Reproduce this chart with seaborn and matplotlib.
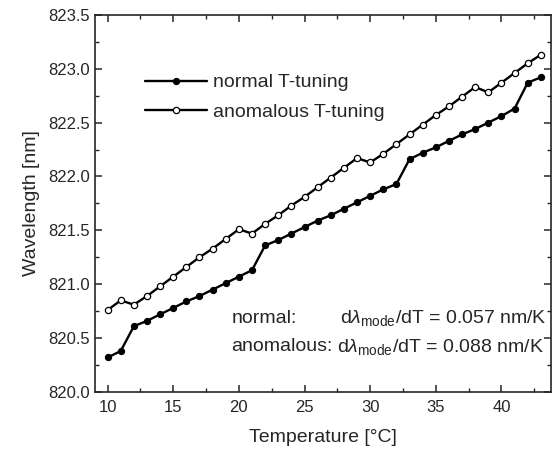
import numpy as np
import pandas as pd
import matplotlib
matplotlib.use("Agg")
import matplotlib.pyplot as plt
import matplotlib.ticker as mticker
import seaborn as sns

# data
temperature = list(range(10, 44))
normal = [820.32, 820.38, 820.61, 820.66, 820.72, 820.78, 820.84, 820.89,
          820.95, 821.01, 821.07, 821.13, 821.36, 821.41, 821.47, 821.53,
          821.59, 821.64, 821.70, 821.76, 821.82, 821.88, 821.93, 822.16,
          822.22, 822.27, 822.33, 822.39, 822.44, 822.50, 822.56, 822.63,
          822.87, 822.92]
anomalous = [820.76, 820.85, 820.81, 820.89, 820.98, 821.07, 821.16, 821.25,
             821.33, 821.42, 821.51, 821.47, 821.56, 821.64, 821.73, 821.81,
             821.90, 821.99, 822.08, 822.17, 822.13, 822.21, 822.30, 822.39,
             822.48, 822.57, 822.65, 822.74, 822.83, 822.78, 822.87, 822.96,
             823.05, 823.13]
labels = ["normal T-tuning", "anomalous T-tuning"]

df = pd.DataFrame({"T": temperature, "normal": normal, "anomalous": anomalous})

sns.set_style("ticks")
plt.rcParams.update({
    "font.family": ["Liberation Sans", "DejaVu Sans"],
    "mathtext.fontset": "custom",
    "mathtext.rm": "Liberation Sans",
    "mathtext.it": "Liberation Sans:italic",
    "mathtext.bf": "Liberation Sans:bold",
    "xtick.direction": "in", "ytick.direction": "in",
    "xtick.top": True, "ytick.right": True,
    "axes.linewidth": 1.2,
})

fig = plt.figure(figsize=(5.53, 4.49), dpi=100)
ax = fig.add_axes([0.172, 0.127, 0.825, 0.840])

sns.lineplot(data=df, x="T", y="normal", ax=ax, color="black", lw=1.7,
             marker="o", markersize=4.5, markerfacecolor="black",
             markeredgecolor="black", label=labels[0])
sns.lineplot(data=df, x="T", y="anomalous", ax=ax, color="black", lw=1.7,
             marker="o", markersize=4.5, markerfacecolor="white",
             markeredgecolor="black", markeredgewidth=0.9, label=labels[1])

ax.set_xlim(9.05, 43.8)
ax.set_ylim(820.0, 823.5)
ax.xaxis.set_major_locator(mticker.MultipleLocator(5))
ax.xaxis.set_minor_locator(mticker.MultipleLocator(2.5))
ax.yaxis.set_major_locator(mticker.MultipleLocator(0.5))
ax.yaxis.set_minor_locator(mticker.MultipleLocator(0.25))
ax.yaxis.set_major_formatter(mticker.FormatStrFormatter("%.1f"))
ax.tick_params(which="major", length=5, width=1.1, labelsize=12)
ax.tick_params(axis="x", which="major", pad=6)
ax.tick_params(which="minor", length=3, width=1.0)
for s in ax.spines.values():
    s.set_visible(True)

ax.set_xlabel("Temperature [°C]", fontsize=14, labelpad=10)
ax.set_ylabel("Wavelength [nm]", fontsize=14, labelpad=6)

leg = ax.legend(loc="upper left", bbox_to_anchor=(0.07, 0.89), frameon=False,
                fontsize=14, handlelength=3.2, handletextpad=0.3,
                labelspacing=0.6)

ax.text(0.300, 0.195, "normal:", transform=ax.transAxes, fontsize=14,
        va="center")
ax.text(0.298, 0.12, "anomalous:", transform=ax.transAxes, fontsize=14,
        va="center")
ax.text(0.99, 0.195, r"d$\lambda_{\rm mode}$/dT = 0.057 nm/K",
        transform=ax.transAxes, fontsize=14, va="center", ha="right")
ax.text(0.983, 0.12, r"d$\lambda_{\rm mode}$/dT = 0.088 nm/K",
        transform=ax.transAxes, fontsize=14, va="center", ha="right")

fig.savefig("out.png", dpi=100, facecolor="white")
